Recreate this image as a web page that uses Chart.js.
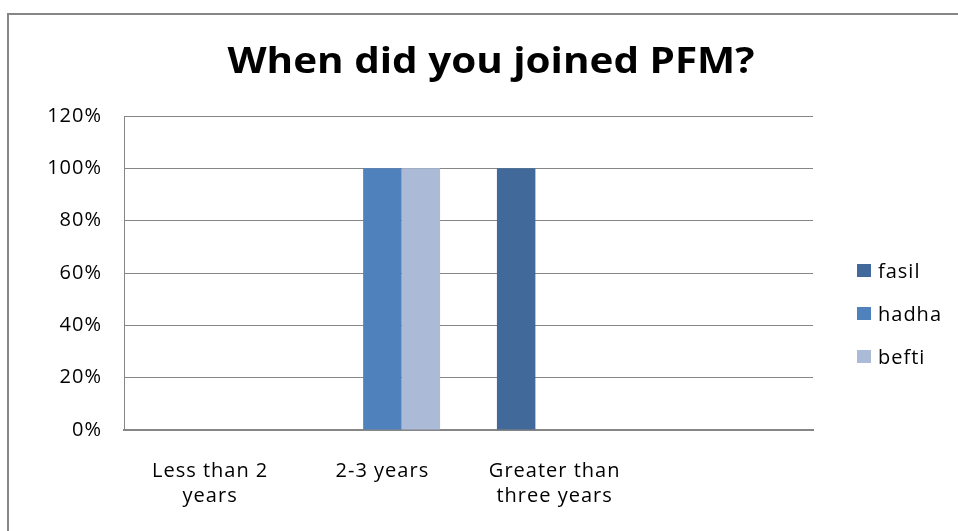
<!DOCTYPE html>
<html>
<head>
<meta charset="utf-8">
<script src="https://cdn.jsdelivr.net/npm/chart.js@4.4.1/dist/chart.umd.min.js"></script>
<style>
	html, body { margin: 0; padding: 0; background: #fff; }
	#wrap { position: relative; width: 958px; height: 531px; }
</style>
</head>
<body>
<div id="wrap"><canvas id="chart" width="958" height="531"></canvas></div>
<script>
'use strict';

// Survey answers, share of each respondent per period
var categories = [['Less than 2', 'years'], '2-3 years', ['Greater than', 'three years'], ''];
var fasil = [0, 0, 100, null];
var hadha = [0, 100, 0, null];
var befti = [0, 100, 0, null];
var yTicks = [0, 20, 40, 60, 80, 100, 120];

var FONT = '"Open Sans", "Noto Sans", sans-serif',
	GRID = '#868686',
	SPACING = '1px';

// Frame, title and legend are painted by hand around the plot
var decorations = {
	id: 'decorations',
	beforeLayout: function (chart) {
		chart.ctx.letterSpacing = SPACING;
	},
	beforeDraw: function (chart) {
		var ctx = chart.ctx;
		ctx.letterSpacing = SPACING;
		ctx.save();
		ctx.fillStyle = '#fff';
		ctx.fillRect(0, 0, chart.width, chart.height);
		ctx.strokeStyle = GRID;
		ctx.lineWidth = 2;
		ctx.strokeRect(8, 14, chart.width + 20, chart.height + 20);
		ctx.restore();
	},
	afterDraw: function (chart) {
		var ctx = chart.ctx,
			title = 'When did you joined PFM?',
			w;
		ctx.save();
		ctx.letterSpacing = '0px';
		ctx.fillStyle = '#000';
		ctx.font = 'bold 36px ' + FONT;
		ctx.textAlign = 'center';
		ctx.textBaseline = 'alphabetic';
		// widen the title to its usual span
		w = ctx.measureText(title).width;
		ctx.translate(491, 73);
		ctx.scale(527 / w, 1);
		ctx.fillText(title, 0, 0);
		ctx.restore();

		ctx.save();
		ctx.font = '20px ' + FONT;
		ctx.textAlign = 'left';
		ctx.textBaseline = 'alphabetic';
		chart.data.datasets.forEach(function (ds, i) {
			var y = 278 + i * 43;
			ctx.fillStyle = ds.backgroundColor;
			ctx.fillRect(857, y - 14, 14, 13);
			ctx.fillStyle = '#000';
			ctx.fillText(ds.label, 878, y);
		});
		ctx.restore();
	}
};

new Chart(document.getElementById('chart'), {
	type: 'bar',
	data: {
		labels: categories,
		datasets: [
			{ label: 'fasil', data: fasil, backgroundColor: '#416A9A' },
			{ label: 'hadha', data: hadha, backgroundColor: '#4F81BD' },
			{ label: 'befti', data: befti, backgroundColor: '#AABAD7' }
		]
	},
	options: {
		responsive: false,
		animation: false,
		layout: {
			padding: { left: 10, right: 145, top: 116, bottom: 0 }
		},
		datasets: {
			bar: {
				categoryPercentage: 0.67,
				barPercentage: 1,
				borderWidth: 0
			}
		},
		plugins: {
			legend: { display: false },
			title: { display: false },
			tooltip: { enabled: false }
		},
		scales: {
			x: {
				grid: { display: false, drawTicks: false },
				border: { color: GRID, width: 2 },
				ticks: {
					color: '#000',
					padding: 29,
					maxRotation: 0,
					autoSkip: false,
					font: { family: FONT, size: 20, lineHeight: 1.25 }
				},
				afterFit: function (scale) { scale.height = 101; }
			},
			y: {
				min: 0,
				max: 120,
				afterBuildTicks: function (scale) {
					scale.ticks = yTicks.map(function (v) { return { value: v }; });
				},
				grid: { color: GRID, lineWidth: 1, drawTicks: false },
				border: { color: GRID, width: 1 },
				ticks: {
					color: '#000',
					padding: 22,
					font: { family: FONT, size: 20 },
					callback: function (v) { return v + '%'; }
				},
				afterFit: function (scale) { scale.width = 114; }
			}
		}
	},
	plugins: [decorations]
});
</script>
</body>
</html>
